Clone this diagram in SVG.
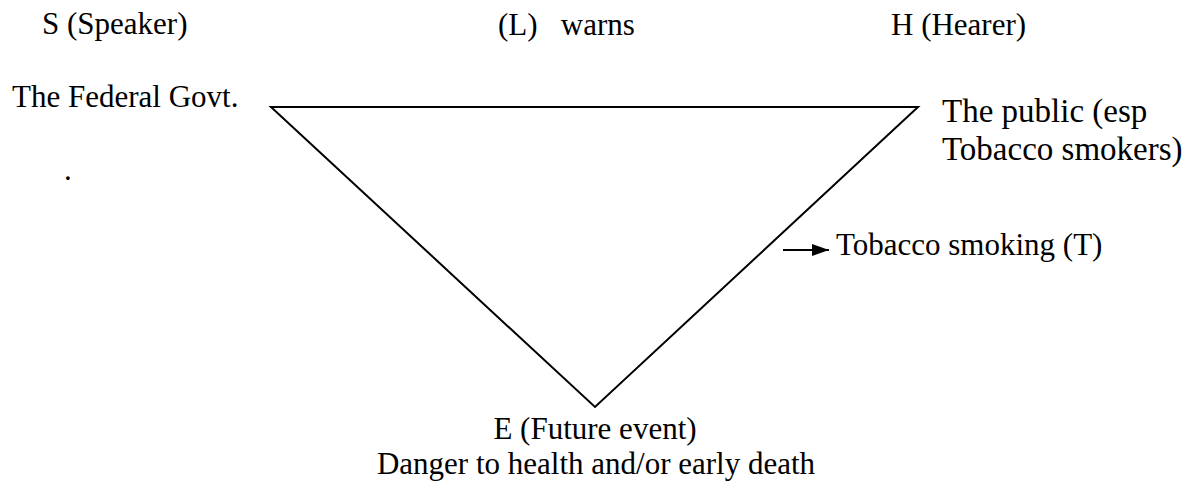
<svg xmlns="http://www.w3.org/2000/svg" width="1200" height="483" viewBox="0 0 1200 483">
<defs>
<style>
text{font-family:"Liberation Serif","Times New Roman",serif;font-size:31px;fill:#000}
.big{font-size:33px}
.ln{stroke:#000;stroke-width:2;fill:none}
</style>
<marker id="ah" markerWidth="17" markerHeight="12" refX="17" refY="6" orient="auto" markerUnits="userSpaceOnUse" viewBox="0 0 17 12">
<path d="M0,0 L17,6 L0,12 Z" fill="#000"/>
</marker>
</defs>
<rect width="1200" height="483" fill="#fff"/>
<g id="headers">
<text x="42" y="34">S (Speaker)</text>
<text x="498" y="35" xml:space="preserve">(L)   warns</text>
<text x="891" y="35">H (Hearer)</text>
</g>
<g id="connectors">
<path class="ln" d="M271,107 L918,107 L595,407 Z"/>
<line class="ln" x1="783" y1="250" x2="829" y2="250" marker-end="url(#ah)"/>
</g>
<g id="node-speaker">
<text x="12" y="107">The Federal Govt.</text>
<text x="64" y="180">.</text>
</g>
<g id="node-hearer">
<text class="big" x="942" y="122">The public (esp</text>
<text class="big" x="942" y="160">Tobacco smokers)</text>
</g>
<g id="node-topic">
<text x="836" y="255">Tobacco smoking (T)</text>
</g>
<g id="node-event">
<text x="595" y="439" text-anchor="middle">E (Future event)</text>
<text x="596" y="474" text-anchor="middle">Danger to health and/or early death</text>
</g>
</svg>
